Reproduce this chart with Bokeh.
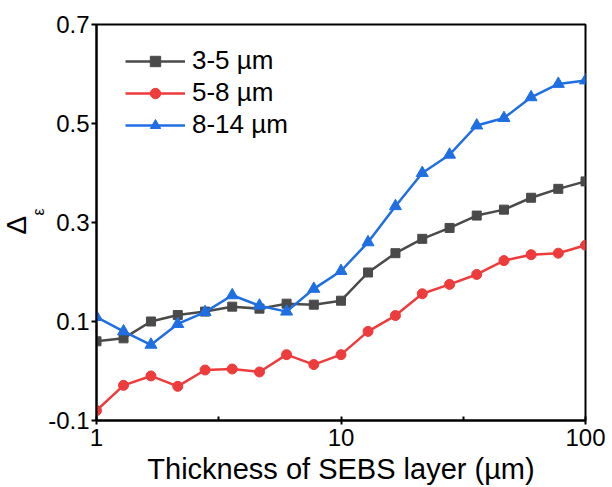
from bokeh.plotting import figure
from bokeh.models import Range1d, FixedTicker, Legend, LegendItem, PrintfTickFormatter, Title
from bokeh.embed import file_html
from bokeh.resources import INLINE

thickness = [1, 1.29, 1.67, 2.15, 2.78, 3.59, 4.64, 5.99, 7.74, 10,
             12.9, 16.7, 21.5, 27.8, 35.9, 46.4, 59.9, 77.4, 100]
band_3_5 = [0.060, 0.066, 0.100, 0.113, 0.120, 0.130, 0.126, 0.136, 0.134, 0.142,
            0.199, 0.238, 0.267, 0.289, 0.314, 0.326, 0.350, 0.368, 0.383]
band_5_8 = [-0.080, -0.029, -0.010, -0.031, 0.002, 0.004, -0.002, 0.033, 0.013, 0.033,
            0.080, 0.112, 0.156, 0.175, 0.195, 0.223, 0.235, 0.238, 0.254]
band_8_14 = [0.109, 0.080, 0.053, 0.095, 0.119, 0.153, 0.132, 0.120, 0.166, 0.202,
             0.260, 0.333, 0.400, 0.437, 0.496, 0.511, 0.553, 0.580, 0.587]
series_names = ["3-5 µm", "5-8 µm", "8-14 µm"]
x_ticks = [1, 10, 100]
y_ticks = [-0.1, 0.1, 0.3, 0.5, 0.7]

FONT = "Liberation Sans"
GRAY = "#4a4a4a"
RED = "#ee3b3b"
BLUE = "#1f6fe3"

p = figure(width=612, height=487, x_axis_type="log",
           x_range=Range1d(1, 100), y_range=Range1d(-0.1, 0.7),
           output_backend="svg", toolbar_location=None)
p.min_border_left = 96
p.min_border_right = 27
p.min_border_top = 24
p.min_border_bottom = 67
p.grid.visible = False
p.outline_line_color = "black"
p.outline_line_width = 2
p.background_fill_color = "white"
p.border_fill_color = "white"

r1l = p.line(thickness, band_3_5, line_color=GRAY, line_width=2.5)
r1m = p.scatter(thickness, band_3_5, marker="square", size=9, fill_color=GRAY, line_color=GRAY)
r2l = p.line(thickness, band_5_8, line_color=RED, line_width=2.5)
r2m = p.scatter(thickness, band_5_8, marker="circle", size=10, fill_color=RED, line_color=RED)
r3l = p.line(thickness, band_8_14, line_color=BLUE, line_width=2.5)
r3m = p.scatter(thickness, band_8_14, marker="triangle", size=12, fill_color=BLUE, line_color=BLUE)

legend = Legend(items=[LegendItem(label=series_names[0], renderers=[r1l, r1m]),
                       LegendItem(label=series_names[1], renderers=[r2l, r2m]),
                       LegendItem(label=series_names[2], renderers=[r3l, r3m])],
                location=(29, 280))
legend.border_line_color = None
legend.background_fill_alpha = 0
legend.label_text_font = FONT
legend.label_text_font_size = "26px"
legend.label_text_color = "black"
legend.glyph_width = 60
legend.glyph_height = 26
legend.label_height = 26
legend.label_standoff = 7
legend.spacing = 1
legend.padding = 0
legend.margin = 0
p.add_layout(legend)

xa = p.xaxis[0]
xa.ticker = FixedTicker(ticks=x_ticks, minor_ticks=[10 ** 0.5, 10 ** 1.5])
xa.formatter = PrintfTickFormatter(format="%d")
xa.axis_label = "Thickness of SEBS layer (µm)"
xa.axis_label_text_font = FONT
xa.axis_label_text_font_size = "29px"
xa.axis_label_text_font_style = "normal"
xa.axis_label_text_color = "black"
xa.axis_label_standoff = 4
xa.major_label_text_font = FONT
xa.major_label_text_font_size = "24px"
xa.major_label_text_color = "black"
xa.major_label_standoff = 4
xa.axis_line_width = 2
xa.major_tick_in = 4
xa.major_tick_out = 4
xa.minor_tick_in = 4
xa.minor_tick_out = 0
xa.major_tick_line_width = 2
xa.minor_tick_line_width = 2

ya = p.yaxis[0]
ya.ticker = FixedTicker(ticks=y_ticks, minor_ticks=[])
ya.major_label_overrides = {v: ("%.1f" % v) for v in y_ticks}
ya.major_label_text_font = FONT
ya.major_label_text_font_size = "24px"
ya.major_label_text_color = "black"
ya.major_label_standoff = 2
ya.axis_line_width = 2
ya.major_tick_in = 0
ya.major_tick_out = 5
ya.major_tick_line_width = 2
ya.axis_label = None

# y-axis label: Delta with subscript epsilon (two side titles, offsets from frame bottom)
eps_title = Title(text="ε", align="left", offset=205, standoff=-3,
                  text_font=FONT, text_font_size="16px", text_font_style="normal",
                  text_color="black")
delta_title = Title(text="Δ", align="left", offset=186, standoff=-4,
                    text_font=FONT, text_font_size="28px", text_font_style="normal",
                    text_color="black")
p.add_layout(eps_title, "left")
p.add_layout(delta_title, "left")

open("out.html", "w").write(file_html(p, INLINE))
